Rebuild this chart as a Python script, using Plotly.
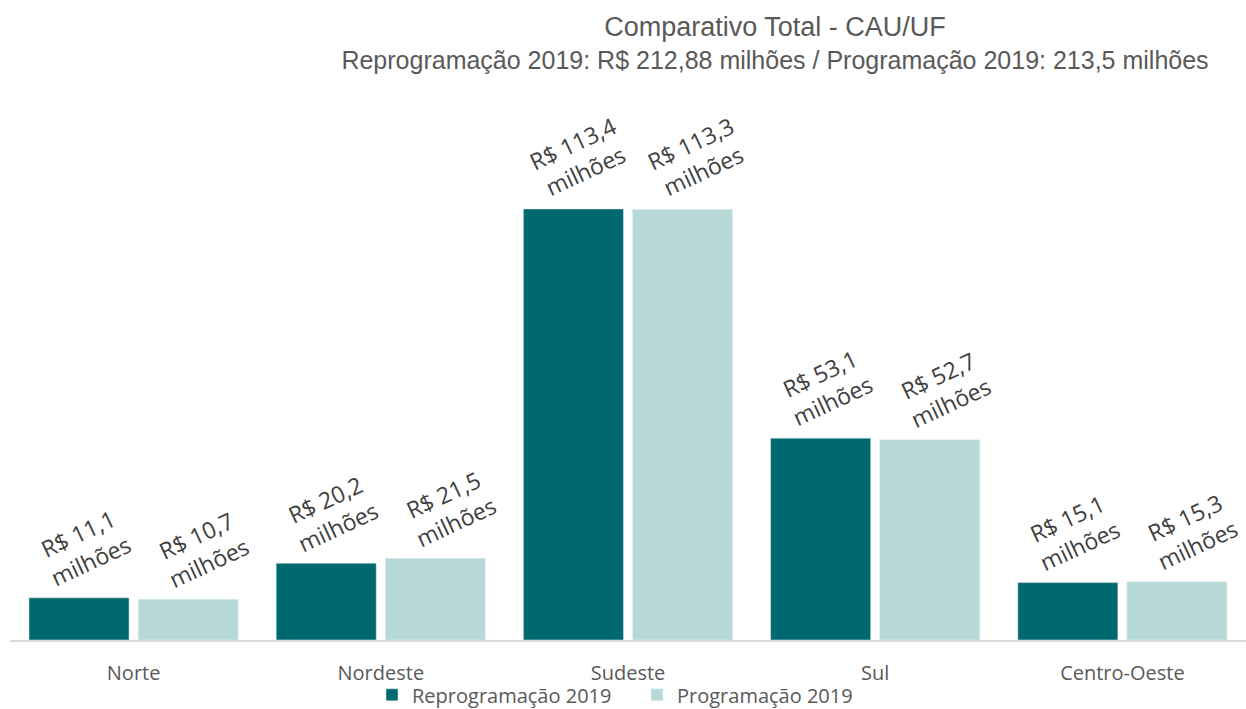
import plotly.graph_objects as go

regions = ["Norte", "Nordeste", "Sudeste", "Sul", "Centro-Oeste"]
reprog_2019 = [11.1, 20.2, 113.4, 53.1, 15.1]
prog_2019 = [10.7, 21.5, 113.3, 52.7, 15.3]

dark_teal = "#006970"
light_teal = "#b6d9d8"
label_font = dict(family="Open Sans, sans-serif", size=23, color="#404040")


def fmt_label(value: float) -> str:
    return f"R$ {value:.1f}".replace(".", ",") + "<br>milhões"


fig = go.Figure()
fig.add_trace(
    go.Bar(x=regions, y=reprog_2019, name="Reprogramação 2019", marker_color=dark_teal)
)
fig.add_trace(
    go.Bar(x=regions, y=prog_2019, name="Programação 2019", marker_color=light_teal)
)

# rotated two-line value labels above each bar
for series, shift in ((reprog_2019, -49), (prog_2019, 69)):
    for region, value in zip(regions, series):
        fig.add_annotation(
            x=region,
            y=value,
            xshift=shift,
            yshift=2,
            yanchor="bottom",
            text=fmt_label(value),
            textangle=-25,
            showarrow=False,
            font=label_font,
        )

fig.update_layout(
    width=1246,
    height=709,
    paper_bgcolor="#ffffff",
    plot_bgcolor="#ffffff",
    barmode="group",
    bargap=0.117,
    bargroupgap=0.083,
    margin=dict(l=10, r=0, t=90, b=69),
    title={
        "text": "<span style='font-size:27px'>Comparativo Total - CAU/UF</span><br>"
        "Reprogramação 2019: R$ 212,88 milhões / Programação 2019: 213,5 milhões",
        "x": 775 / 1246,
        "xanchor": "center",
        "xref": "container",
        "y": 0.949,
        "yanchor": "top",
        "font": {"family": "Liberation Sans, Arial, sans-serif",
                 "size": 25, "color": "#595959"},
    },
    xaxis={
        "showline": True,
        "linecolor": "#d9d9d9",
        "linewidth": 2,
        "tickfont": {"family": "Open Sans, sans-serif", "size": 20, "color": "#595959"},
        "ticks": "",
        "ticklabelstandoff": 14,
        "automargin": False,
    },
    yaxis={
        "visible": False,
        "range": [0, 144.7],
    },
    legend={
        "orientation": "h",
        "x": 372 / 1246,
        "xanchor": "left",
        "xref": "container",
        "y": 0.02,
        "yanchor": "middle",
        "yref": "container",
        "bgcolor": "rgba(0,0,0,0)",
        "font": {"family": "Open Sans, sans-serif", "size": 20, "color": "#595959"},
        "itemwidth": 30,
        "entrywidth": 220,
    },
    showlegend=True,
)

fig.write_html(
    "out.html",
    config={"displayModeBar": False},
    post_script="document.body.style.margin = '0';",
)
